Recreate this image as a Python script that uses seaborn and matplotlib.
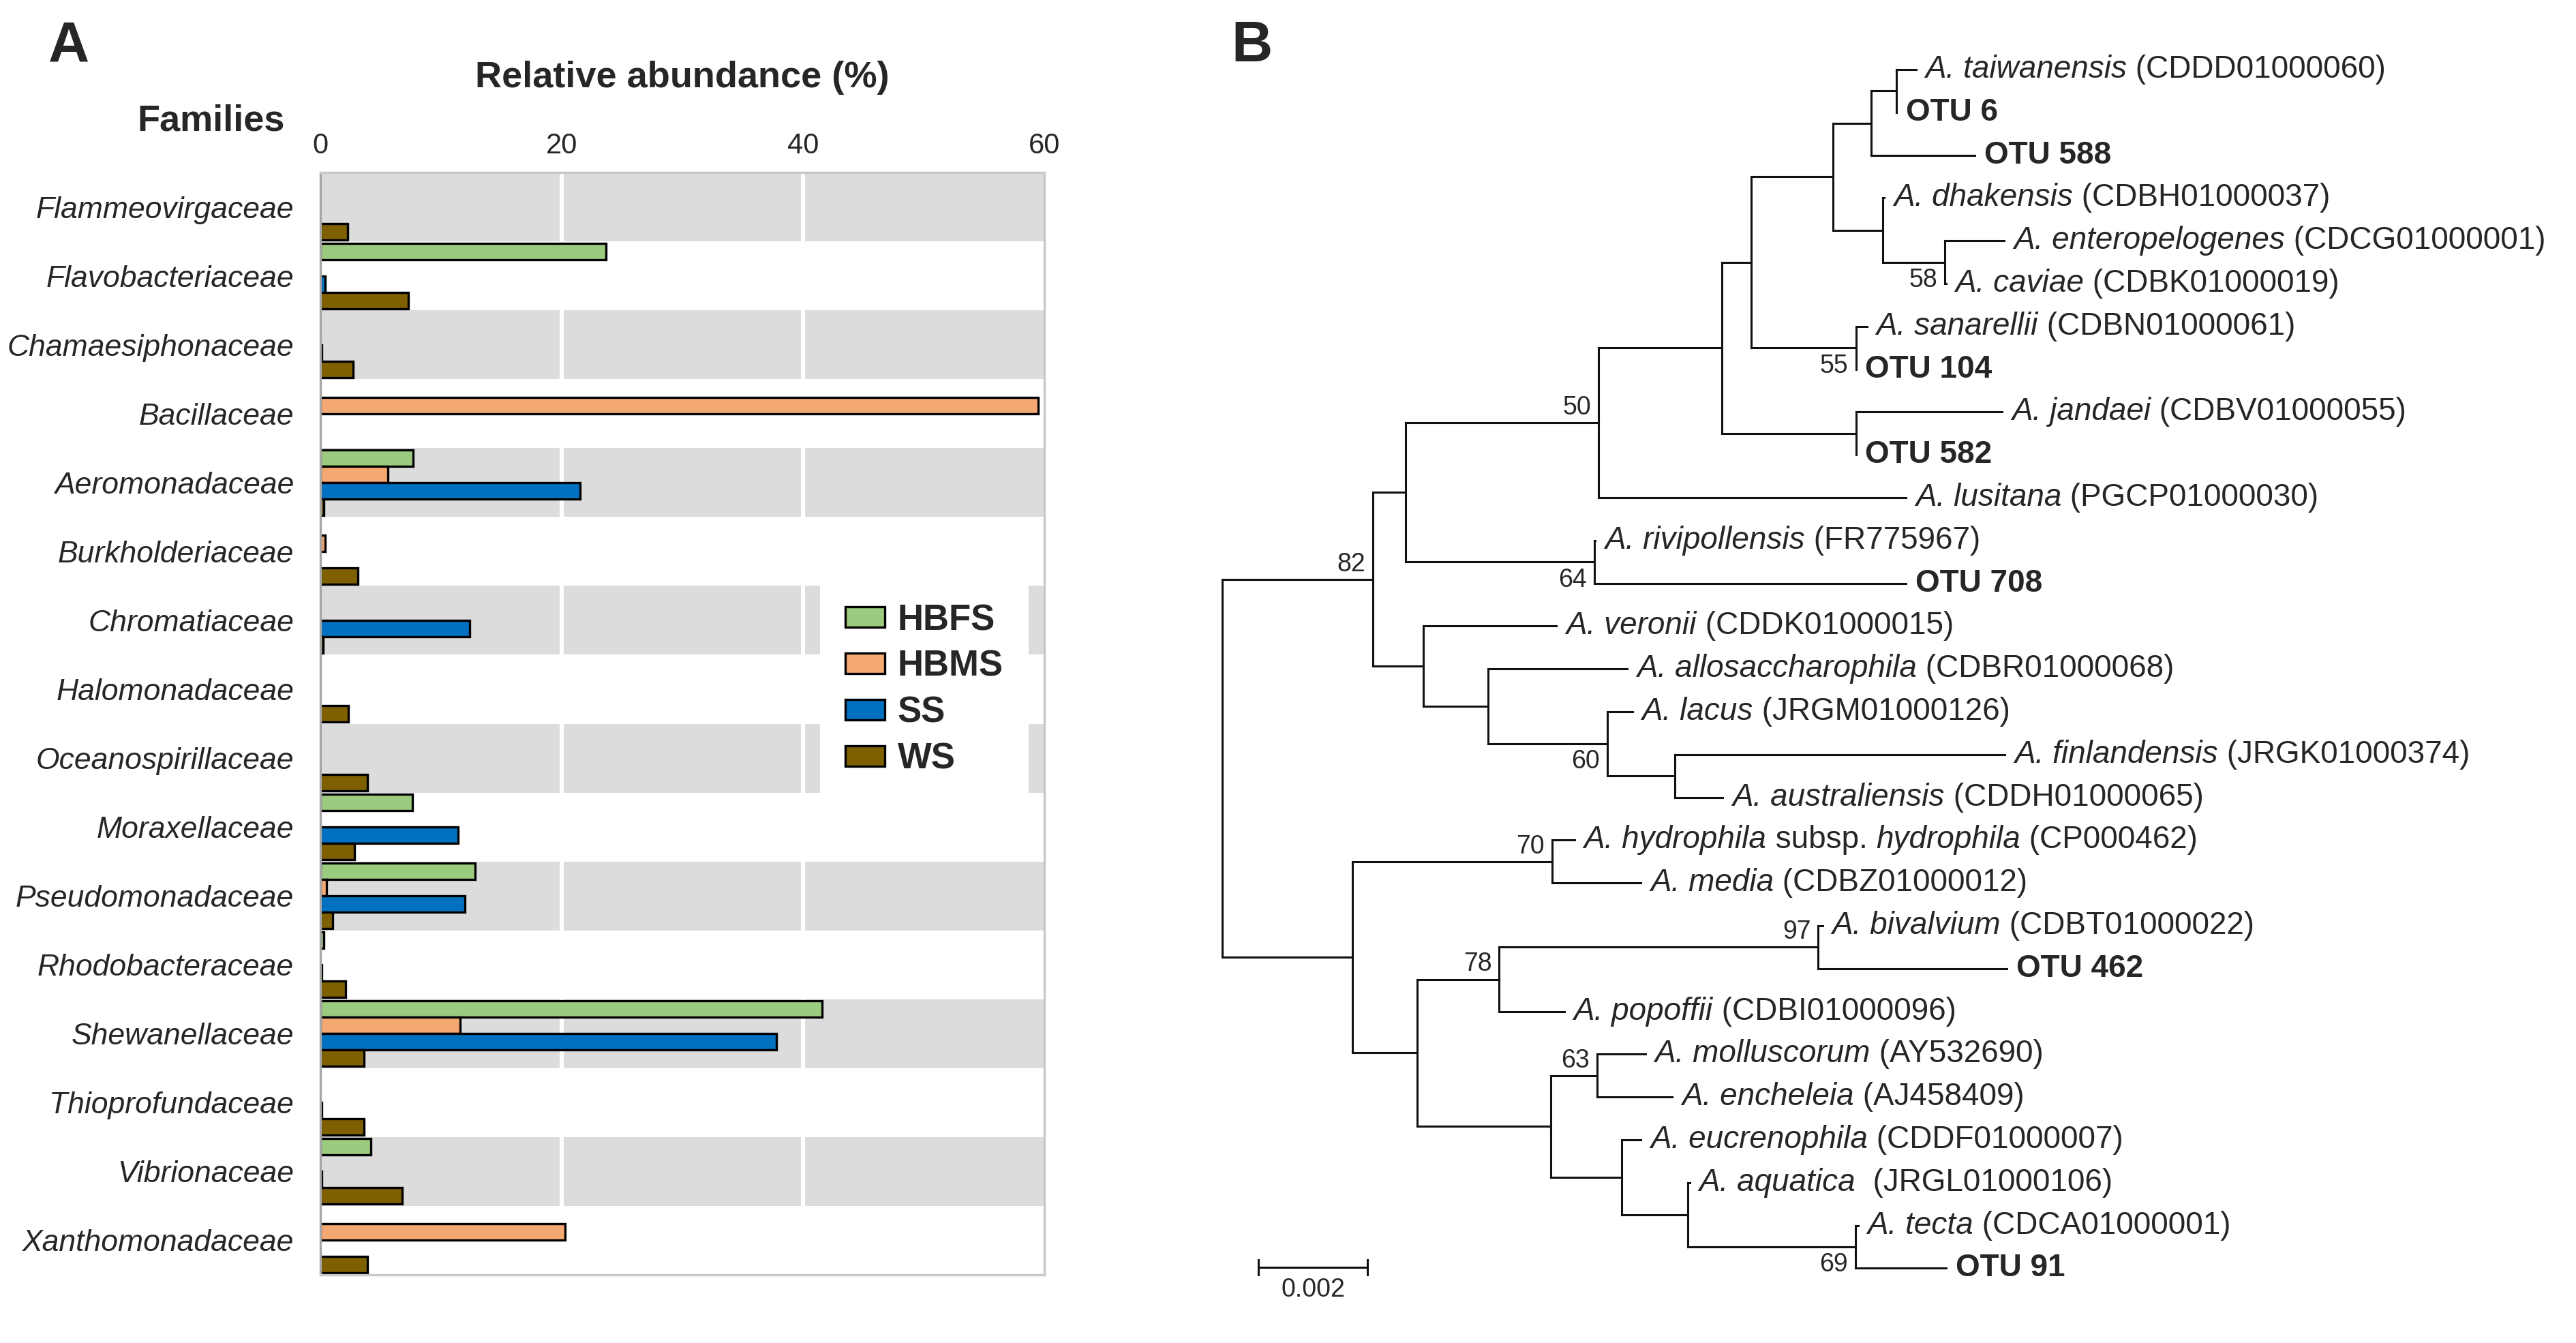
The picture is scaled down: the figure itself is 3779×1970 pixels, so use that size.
import matplotlib
matplotlib.use("Agg")
import matplotlib.pyplot as plt
import pandas as pd
import seaborn as sns

# ---- panel A data: relative abundance (%) per family and sample ----
families = [
    "Flammeovirgaceae", "Flavobacteriaceae", "Chamaesiphonaceae", "Bacillaceae",
    "Aeromonadaceae", "Burkholderiaceae", "Chromatiaceae", "Halomonadaceae",
    "Oceanospirillaceae", "Moraxellaceae", "Pseudomonadaceae", "Rhodobacteraceae",
    "Shewanellaceae", "Thioprofundaceae", "Vibrionaceae", "Xanthomonadaceae",
]
sites = ["HBFS", "HBMS", "SS", "WS"]
hbfs = [0, 23.7, 0, 0, 7.7, 0, 0, 0, 0, 7.6, 12.8, 0.3, 41.6, 0, 4.2, 0]
hbms = [0, 0, 0, 59.5, 5.6, 0.4, 0, 0, 0, 0, 0.5, 0, 11.6, 0, 0, 20.3]
ss = [0, 0.4, 0.1, 0, 21.5, 0, 12.4, 0, 0, 11.4, 12.0, 0.1, 37.8, 0.1, 0.1, 0]
ws = [2.25, 7.3, 2.7, 0, 0.3, 3.1, 0.2, 2.3, 3.9, 2.8, 1.0, 2.1, 3.6, 3.6, 6.8, 3.9]
site_colors = ["#9BCB7E", "#F4A872", "#0070C0", "#7F6000"]
xticks = [0, 20, 40, 60]

# ---- panel B data: tree edges (child, parent, branch length) ----
tree_child = [
    "n82", "n240", "n50", "n597", "n630", "n722", "n765", "n793", "tai", "otu6",
    "otu588", "n778", "dha", "n58", "ent", "cav", "n55", "san", "otu104", "n748",
    "jan", "otu582", "lus", "n64", "riv", "otu708", "n260", "ver", "n333", "all",
    "n60", "lac", "n543", "fin", "aus", "n180", "n70", "hyd", "med", "n253",
    "n78", "n97", "biv", "otu462", "pop", "n403", "n63", "mol", "enc", "n483",
    "euc", "n558", "aqu", "n69", "tec", "otu91",
]
tree_parent = [
    "root", "n82", "n240", "n50", "n597", "n630", "n722", "n765", "n793", "n793",
    "n765", "n722", "n778", "n778", "n58", "n58", "n630", "n55", "n55", "n597",
    "n748", "n748", "n50", "n240", "n64", "n64", "n82", "n260", "n260", "n333",
    "n333", "n60", "n60", "n543", "n543", "root", "n180", "n70", "n70", "n180",
    "n253", "n78", "n97", "n97", "n78", "n253", "n403", "n63", "n63", "n403",
    "n483", "n483", "n558", "n558", "n69", "n69",
]
tree_length = [
    0.00276, 0.00060, 0.00354, 0.00226, 0.00054, 0.00150, 0.00070, 0.00046, 0.00036, 0.0,
    0.00190, 0.00091, 0.00003, 0.00114, 0.00109, 0.00002, 0.00192, 0.00020, 0.0, 0.00246,
    0.00268, 0.0, 0.00564, 0.00346, 0.00002, 0.00572, 0.00093, 0.00244, 0.00119, 0.00255,
    0.00218, 0.00046, 0.00124, 0.00605, 0.00088, 0.00239, 0.00366, 0.00041, 0.00163, 0.00119,
    0.00150, 0.00585, 0.00008, 0.00346, 0.00119, 0.00244, 0.00085, 0.00089, 0.00138, 0.00130,
    0.00036, 0.00122, 0.00003, 0.00307, 0.00005, 0.00167,
]
# leaf labels as (text, style) pieces
leaf_labels = {
    "tai": [("A. taiwanensis", "italic"), (" (CDDD01000060)", "normal")],
    "otu6": [("OTU 6", "bold")],
    "otu588": [("OTU 588", "bold")],
    "dha": [("A. dhakensis", "italic"), (" (CDBH01000037)", "normal")],
    "ent": [("A. enteropelogenes", "italic"), (" (CDCG01000001)", "normal")],
    "cav": [("A. caviae", "italic"), (" (CDBK01000019)", "normal")],
    "san": [("A. sanarellii", "italic"), (" (CDBN01000061)", "normal")],
    "otu104": [("OTU 104", "bold")],
    "jan": [("A. jandaei", "italic"), (" (CDBV01000055)", "normal")],
    "otu582": [("OTU 582", "bold")],
    "lus": [("A. lusitana", "italic"), (" (PGCP01000030)", "normal")],
    "riv": [("A. rivipollensis", "italic"), (" (FR775967)", "normal")],
    "otu708": [("OTU 708", "bold")],
    "ver": [("A. veronii", "italic"), (" (CDDK01000015)", "normal")],
    "all": [("A. allosaccharophila", "italic"), (" (CDBR01000068)", "normal")],
    "lac": [("A. lacus", "italic"), (" (JRGM01000126)", "normal")],
    "fin": [("A. finlandensis", "italic"), (" (JRGK01000374)", "normal")],
    "aus": [("A. australiensis", "italic"), (" (CDDH01000065)", "normal")],
    "hyd": [("A. hydrophila", "italic"), (" subsp. ", "normal"),
            ("hydrophila", "italic"), (" (CP000462)", "normal")],
    "med": [("A. media", "italic"), (" (CDBZ01000012)", "normal")],
    "biv": [("A. bivalvium", "italic"), (" (CDBT01000022)", "normal")],
    "otu462": [("OTU 462", "bold")],
    "pop": [("A. popoffii", "italic"), (" (CDBI01000096)", "normal")],
    "mol": [("A. molluscorum", "italic"), (" (AY532690)", "normal")],
    "enc": [("A. encheleia", "italic"), (" (AJ458409)", "normal")],
    "euc": [("A. eucrenophila", "italic"), (" (CDDF01000007)", "normal")],
    "aqu": [("A. aquatica", "italic"), ("  (JRGL01000106)", "normal")],
    "tec": [("A. tecta", "italic"), (" (CDCA01000001)", "normal")],
    "otu91": [("OTU 91", "bold")],
}
support_node = ["n50", "n58", "n55", "n64", "n82", "n60", "n70", "n97", "n78", "n63", "n69"]
support_value = [50, 58, 55, 64, 82, 60, 70, 97, 78, 63, 69]
support_side = ["above", "below", "below", "below", "above", "below",
                "above", "above", "above", "above", "below"]
scale_len = 0.002

sns.set_theme(style="white")
plt.rcParams["font.family"] = ["Liberation Sans", "DejaVu Sans"]

W, H = 3780, 1970
fig = plt.figure(figsize=(18.9, 9.85), dpi=200)

# ================= panel A =================
ax = fig.add_axes([470 / W, 1 - 1870 / H, (1532 - 470) / W, (1870 - 253) / H])

rows = []
for fam, a, b, c, d in zip(families, hbfs, hbms, ss, ws):
    for site, val in zip(sites, [a, b, c, d]):
        if val > 0:
            rows.append({"family": fam, "site": site, "abundance": val})
df = pd.DataFrame(rows)

for i in range(0, len(families), 2):
    ax.axhspan(i - 0.5, i + 0.5, color="#DCDCDC", lw=0, zorder=0)
for xv in xticks[1:-1]:
    ax.axvline(xv, color="white", lw=2.2, zorder=0.5)

sns.barplot(
    data=df, x="abundance", y="family", hue="site",
    order=families, hue_order=sites,
    palette=dict(zip(sites, site_colors)), saturation=1,
    orient="h", width=0.95, errorbar=None,
    edgecolor="black", linewidth=1.2, ax=ax,
)

ax.set_xlim(0, 60)
ax.set_ylim(len(families) - 0.5, -0.5)
ax.set_xticks(xticks)
ax.xaxis.tick_top()
ax.tick_params(axis="x", length=0, pad=7, labelsize=15, top=True, labeltop=True,
               bottom=False, labelbottom=False)
ax.tick_params(axis="y", length=0, pad=14, labelsize=16)
for lab in ax.get_yticklabels():
    lab.set_fontstyle("italic")
ax.set_xlabel("")
ax.set_ylabel("")
for side in ["top", "right", "bottom"]:
    ax.spines[side].set_color("#C8C8C8")
    ax.spines[side].set_linewidth(1.2)
ax.spines["left"].set_color("#A6A6A6")
ax.spines["left"].set_linewidth(1.2)

handles, labels = ax.get_legend_handles_labels()
ax.legend(
    handles, labels, loc="upper left", bbox_to_anchor=(0.690, 0.632),
    borderaxespad=0, borderpad=0.7, frameon=True, facecolor="white",
    edgecolor="none", framealpha=1, fancybox=False,
    handlelength=1.1, handleheight=0.5, handletextpad=0.36, labelspacing=0.34,
    prop={"weight": "bold", "size": 19},
)

ax.text(0.5, (1870 - 114) / (1870 - 253), "Relative abundance (%)", transform=ax.transAxes,
        ha="center", va="center", fontsize=19.5, fontweight="bold")
fig.text(310 / W, 1 - 178 / H, "Families", ha="center", va="center",
         fontsize=19.5, fontweight="bold")
fig.text(71 / W, 1 - 90 / H, "A", ha="left", va="baseline", fontsize=30, fontweight="bold")
fig.text(1806 / W, 1 - 90 / H, "B", ha="left", va="baseline", fontsize=30, fontweight="bold")

# ================= panel B =================
root_px, px_per_unit = 1793, 80000
top_px, leaf_step = 102, 62.8
left_px = 1739
ax2 = fig.add_axes([left_px / W, 0, 1 - left_px / W, 1])
ax2.set_xlim(-(root_px - left_px) / px_per_unit, (W - root_px) / px_per_unit)
ax2.set_ylim((H - top_px) / leaf_step, -top_px / leaf_step)
ax2.axis("off")

children = {}
for c, p, l in zip(tree_child, tree_parent, tree_length):
    children.setdefault(p, []).append((c, l))

xpos, ypos = {}, {}
counter = [0]


def layout(node, x):
    xpos[node] = x
    if node not in children:
        ypos[node] = counter[0]
        counter[0] += 1
        return
    for c, l in children[node]:
        layout(c, x + l)
    ys = [ypos[c] for c, _ in children[node]]
    ypos[node] = (ys[0] + ys[-1]) / 2


layout("root", 0.0)

line_kw = dict(color="#111111", lw=1.1, solid_capstyle="projecting", clip_on=False)
for c, p in zip(tree_child, tree_parent):
    ax2.plot([xpos[p], xpos[c]], [ypos[c], ypos[c]], **line_kw)
for node, kids in children.items():
    ys = [ypos[c] for c, _ in kids]
    ax2.plot([xpos[node], xpos[node]], [ys[0], ys[-1]], **line_kw)


def style_kw(style):
    if style == "bold":
        return {"fontweight": "bold"}
    if style == "italic":
        return {"fontstyle": "italic"}
    return {}


for key, parts in leaf_labels.items():
    text, style = parts[0]
    prev = ax2.annotate(text, (xpos[key], ypos[key]), xytext=(5, 0),
                        textcoords="offset points", ha="left", va="center",
                        fontsize=16.5, **style_kw(style))
    for text, style in parts[1:]:
        prev = ax2.annotate(text, xy=(1, 0), xycoords=prev, ha="left", va="bottom",
                            fontsize=16.5, **style_kw(style))

for node, val, side in zip(support_node, support_value, support_side):
    if side == "above":
        ax2.annotate(str(val), (xpos[node], ypos[node]), xytext=(-4, 1.5),
                     textcoords="offset points", ha="right", va="bottom", fontsize=13.5)
    else:
        ax2.annotate(str(val), (xpos[node], ypos[node]), xytext=(-4, -3),
                     textcoords="offset points", ha="right", va="top", fontsize=13.5)

# scale bar
sb_x = (1846 - root_px) / px_per_unit
sb_y = (1859 - top_px) / leaf_step
ax2.plot([sb_x, sb_x + scale_len], [sb_y, sb_y], **line_kw)
for xe in [sb_x, sb_x + scale_len]:
    ax2.plot([xe, xe], [sb_y - 0.18, sb_y + 0.18], **line_kw)
ax2.text(sb_x + scale_len / 2, (1892 - top_px) / leaf_step, f"{scale_len:g}",
         ha="center", va="center", fontsize=13.5)

fig.savefig("out.png", dpi=200, facecolor="white")
plt.close(fig)
